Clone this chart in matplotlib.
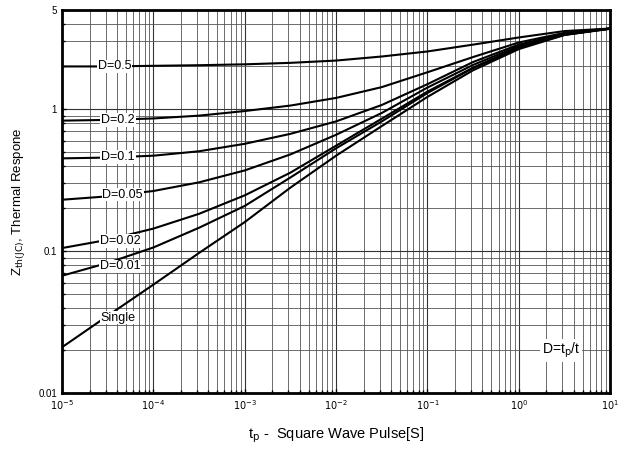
import numpy as np
import matplotlib
matplotlib.use("Agg")
import matplotlib.pyplot as plt
from matplotlib.ticker import FixedLocator, LogLocator, NullFormatter

plt.rcParams['font.family'] = ['Liberation Sans', 'DejaVu Sans']

# pulse width (s)
t_pulse = [1e-5, 10**-4.5, 1e-4, 10**-3.5, 1e-3, 10**-2.5, 1e-2, 10**-1.5, 1e-1, 10**-0.5, 1.0, 10**0.5, 10.0]

# normalized thermal response per duty cycle
z_d05 = [2.0, 2.0, 2.02, 2.04, 2.07, 2.12, 2.2, 2.35, 2.55, 2.85, 3.2, 3.55, 3.7]
z_d02 = [0.83, 0.84, 0.86, 0.9, 0.97, 1.06, 1.2, 1.43, 1.82, 2.33, 2.95, 3.45, 3.7]
z_d01 = [0.45, 0.456, 0.47, 0.505, 0.57, 0.67, 0.82, 1.07, 1.5, 2.15, 2.85, 3.4, 3.7]
z_d005 = [0.23, 0.243, 0.265, 0.305, 0.37, 0.48, 0.66, 0.94, 1.42, 2.05, 2.78, 3.38, 3.7]
z_d002 = [0.105, 0.12, 0.144, 0.183, 0.247, 0.357, 0.553, 0.857, 1.33, 1.96, 2.72, 3.34, 3.68]
z_d001 = [0.067, 0.0825, 0.106, 0.146, 0.208, 0.33, 0.53, 0.82, 1.3, 1.95, 2.7, 3.35, 3.7]
z_single = [0.021, 0.035, 0.058, 0.097, 0.16, 0.28, 0.47, 0.76, 1.22, 1.88, 2.65, 3.33, 3.7]

curve_labels = ["D=0.5", "D=0.2", "D=0.1", "D=0.05", "D=0.02", "D=0.01", "Single"]
label_x = [3.8e-5, 4.1e-5, 4.1e-5, 4.6e-5, 4.3e-5, 4.3e-5, 4.1e-5]
label_y = [2.0, 0.84, 0.46, 0.25, 0.118, 0.078, 0.034]

x_ticks = [1e-5, 1e-4, 1e-3, 1e-2, 1e-1, 1, 10]
x_ticklabels = [r"$10^{-5}$", r"$10^{-4}$", r"$10^{-3}$", r"$10^{-2}$", r"$10^{-1}$", r"$10^{0}$", r"$10^{1}$"]
y_ticks = [0.01, 0.1, 1, 5]
y_ticklabels = ["0.01", "0.1", "1", "5"]

fig = plt.figure(figsize=(6.22, 4.53), dpi=100)
ax = fig.add_axes([0.0997, 0.1325, 0.8813, 0.8455])

series = [z_d05, z_d02, z_d01, z_d005, z_d002, z_d001, z_single]
for z in series:
    ax.plot(t_pulse, z, color='black', lw=1.5, zorder=3)

ax.set_xscale('log')
ax.set_yscale('log')
ax.set_xlim(1e-5, 10)
ax.set_ylim(0.01, 5)

ax.xaxis.set_major_locator(FixedLocator(x_ticks))
ax.set_xticklabels(x_ticklabels)
ax.xaxis.set_minor_locator(LogLocator(base=10, subs=np.arange(2, 10), numticks=20))
ax.xaxis.set_minor_formatter(NullFormatter())
ax.yaxis.set_major_locator(FixedLocator(y_ticks))
ax.set_yticklabels(y_ticklabels)
ax.yaxis.set_minor_locator(LogLocator(base=10, subs=np.arange(2, 10), numticks=20))
ax.yaxis.set_minor_formatter(NullFormatter())

ax.grid(True, which='major', color='#333333', lw=0.8)
ax.grid(True, which='minor', color='#555555', lw=0.6)
ax.tick_params(which='both', direction='in', labelsize=7, length=3, width=1)
ax.tick_params(which='minor', length=2)
for s in ax.spines.values():
    s.set_linewidth(2)

for lab, lx, ly in zip(curve_labels, label_x, label_y):
    ax.text(lx, ly, lab, fontsize=9, ha='center', va='center', zorder=5,
            bbox=dict(facecolor='white', edgecolor='none', pad=0.5))

ax.text(2.9, 0.02, r"D=t$_{\rm p}$/t", fontsize=10, ha='center', va='center', zorder=5,
        bbox=dict(facecolor='white', edgecolor='none', pad=1.5))

ax.set_xlabel(r"t$_{\rm p}$ -  Square Wave Pulse[S]", fontsize=10.5, labelpad=10)
ax.set_ylabel(r"Z$_{\rm th(JC)}$, Thermal Respone", fontsize=9.5, labelpad=8)

fig.savefig("out.png", dpi=100)
